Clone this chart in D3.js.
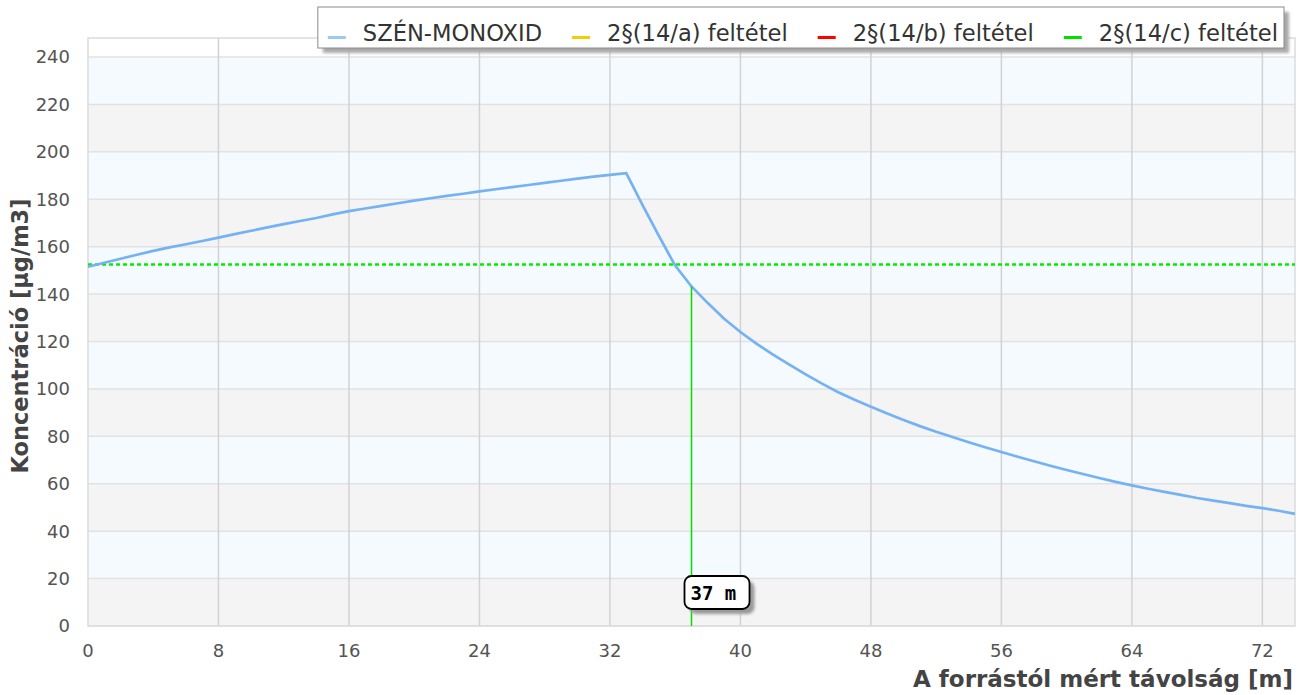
<!DOCTYPE html>
<html>
<head>
<meta charset="utf-8">
<script src="https://cdn.jsdelivr.net/npm/d3@7"></script>
<style>
  body { margin: 0; background: #fff; }
  svg { display: block; font-family: "DejaVu Sans", sans-serif; }
</style>
</head>
<body>
<div id="viz"></div>
<script>
// distance from source [m]
const distances = [0,1,2,3,4,5,6,7,8,9,10,11,12,13,14,15,16,17,18,19,20,21,22,23,24,25,26,27,28,29,30,31,32,33,
  34,35,36,37,38,39,40,41,42,43,44,45,46,47,48,49,50,51,52,53,54,55,56,57,58,59,60,61,62,63,64,65,66,67,68,69,70,71,72,73,74];
// CO concentration [µg/m3]
const coValues = [151.5,153.2,154.9,156.6,158.2,159.7,161.0,162.4,163.8,165.3,166.7,168.1,169.5,170.8,172.1,173.6,175.0,
  176.1,177.2,178.3,179.4,180.4,181.4,182.3,183.3,184.2,185.1,186.0,186.9,187.8,188.7,189.5,190.3,191.0,
  177.5,164.5,152.0,143.2,136.2,129.6,124.0,119.0,114.5,110.2,106.1,102.2,98.6,95.4,92.5,89.6,86.9,84.3,81.9,79.7,
  77.5,75.4,73.4,71.4,69.5,67.6,65.8,64.1,62.4,60.8,59.3,57.9,56.6,55.3,54.0,52.9,51.8,50.7,49.7,48.6,47.3];
const limitC = 152.5;       // 2§(14/c) threshold
const crossDist = 37;       // marked distance
const xTicks = [0,8,16,24,32,40,48,56,64,72];
const yTicks = [0,20,40,60,80,100,120,140,160,180,200,220,240];
const legendNames = ["SZÉN-MONOXID", "2§(14/a) feltétel", "2§(14/b) feltétel", "2§(14/c) feltétel"];
const legendColors = ["#9cc9f2", "#f0d000", "#ff0000", "#00e000"];

const W = 1302, H = 695;
const plot = {left: 88, right: 1295, top: 38, bottom: 626};

const svg = d3.select("#viz").append("svg")
  .attr("width", W).attr("height", H);

const defs = svg.append("defs");
defs.append("filter").attr("id", "blur")
  .append("feGaussianBlur").attr("stdDeviation", 1.5);

const x = d3.scaleLinear().domain([0, 74]).range([plot.left, plot.right]);
const y = d3.scaleLinear().domain([0, 248]).range([plot.bottom, plot.top]);

// alternating background bands
const bands = d3.range(0, 240, 20);
svg.append("g").selectAll("rect")
  .data(bands)
  .enter().append("rect")
    .attr("x", plot.left)
    .attr("width", plot.right - plot.left)
    .attr("y", d => y(d + 20))
    .attr("height", d => y(d) - y(d + 20))
    .attr("fill", (d, i) => i % 2 === 0 ? "#f4f4f4" : "#f5faff");

// grid
svg.append("g").selectAll("line")
  .data(yTicks)
  .enter().append("line")
    .attr("x1", plot.left).attr("x2", plot.right)
    .attr("y1", d => y(d)).attr("y2", d => y(d))
    .attr("stroke", "#e2e2e2").attr("stroke-width", 1.5);

svg.append("g").selectAll("line")
  .data(xTicks.filter(d => d > 0))
  .enter().append("line")
    .attr("x1", d => x(d)).attr("x2", d => x(d))
    .attr("y1", plot.top).attr("y2", plot.bottom)
    .attr("stroke", "#d2d2d2").attr("stroke-width", 1.5);

// frame
svg.append("rect")
  .attr("x", plot.left).attr("y", plot.top)
  .attr("width", plot.right - plot.left).attr("height", plot.bottom - plot.top)
  .attr("fill", "none").attr("stroke", "#dcdcdc").attr("stroke-width", 1.5);

// tick labels
svg.append("g").selectAll("text")
  .data(xTicks)
  .enter().append("text")
    .attr("x", d => x(d)).attr("y", 657)
    .attr("text-anchor", "middle")
    .attr("font-size", 18).attr("fill", "#545454")
    .text(d => d);

svg.append("g").selectAll("text")
  .data(yTicks)
  .enter().append("text")
    .attr("x", 70).attr("y", d => y(d))
    .attr("dy", "0.36em")
    .attr("text-anchor", "end")
    .attr("font-size", 18).attr("fill", "#545454")
    .text(d => d);

// threshold line
svg.append("line")
  .attr("x1", x(0)).attr("x2", x(74))
  .attr("y1", y(limitC)).attr("y2", y(limitC))
  .attr("stroke", "#00ee00").attr("stroke-width", 2.5)
  .attr("stroke-dasharray", "4,3");

// CO curve
const data = distances.map((d, i) => ({d: d, v: coValues[i]}));
const line = d3.line().x(p => x(p.d)).y(p => y(p.v));
svg.append("path")
  .datum(data)
  .attr("d", line)
  .attr("fill", "none")
  .attr("stroke", "#74b2f3")
  .attr("stroke-width", 2.7);

// vertical marker
const crossVal = coValues[distances.indexOf(crossDist)];
svg.append("line")
  .attr("x1", x(crossDist)).attr("x2", x(crossDist))
  .attr("y1", y(0)).attr("y2", y(crossVal))
  .attr("stroke", "#00dd00").attr("stroke-width", 1.5);

// marker label
const lab = svg.append("g").attr("transform", `translate(${x(crossDist) - 7}, 576)`);
lab.append("rect")
  .attr("x", 5).attr("y", 5).attr("width", 65).attr("height", 33).attr("rx", 7)
  .attr("fill", "#999").attr("filter", "url(#blur)");
lab.append("rect")
  .attr("width", 65).attr("height", 33).attr("rx", 7)
  .attr("fill", "#fff").attr("stroke", "#000").attr("stroke-width", 1.8);
lab.append("text")
  .attr("x", 6).attr("y", 24)
  .attr("font-family", "DejaVu Sans Mono, monospace")
  .attr("font-weight", "bold").attr("font-size", 19)
  .text(`${crossDist} m`);

// axis titles
svg.append("text")
  .attr("x", 1293).attr("y", 687)
  .attr("text-anchor", "end")
  .attr("font-weight", "bold").attr("font-size", 23).attr("fill", "#444")
  .text("A forrástól mért távolság [m]");

svg.append("text")
  .attr("transform", "translate(28, 336) rotate(-90)")
  .attr("text-anchor", "middle")
  .attr("font-weight", "bold").attr("font-size", 22.5).attr("fill", "#444")
  .text("Koncentráció [µg/m3]");

// legend
const legend = svg.append("g");
const legShadow = legend.append("rect").attr("fill", "#aaa").attr("filter", "url(#blur)");
const legBox = legend.append("rect").attr("fill", "#fff").attr("stroke", "#8a8a8a").attr("stroke-width", 1);
const items = legend.selectAll("g.item")
  .data(legendNames)
  .enter().append("g").attr("class", "item");
items.append("rect")
  .attr("width", 18).attr("height", 3).attr("y", 36)
  .attr("fill", (d, i) => legendColors[i]);
items.append("text")
  .attr("x", 35).attr("y", 41)
  .attr("font-size", 22.6).attr("fill", "#333")
  .text(d => d);

let cx = 0;
const offsets = [];
items.each(function() {
  offsets.push(cx);
  cx += 35 + d3.select(this).select("text").node().getComputedTextLength() + 30;
});
const legW = cx - 30 + 16;
const legRight = 1284;
const legX = legRight - legW;
items.attr("transform", (d, i) => `translate(${legX + 10 + offsets[i]},0)`);
legBox.attr("x", legX).attr("y", 7).attr("width", legW).attr("height", 41);
legShadow.attr("x", legX + 5).attr("y", 12).attr("width", legW).attr("height", 41);
</script>
</body>
</html>
